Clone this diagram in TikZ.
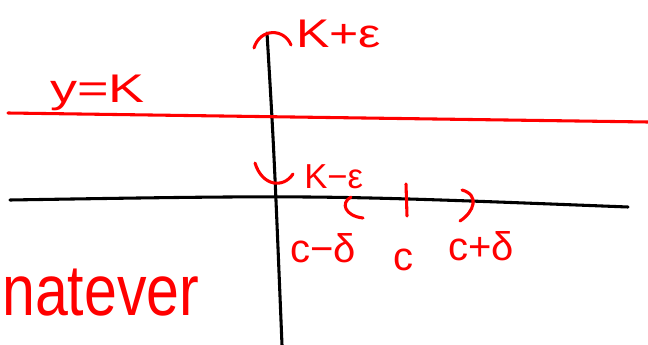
\documentclass[tikz,border=0pt]{standalone}
\usepackage{fontspec}
\setmainfont{Liberation Sans}
\usetikzlibrary{positioning}
\definecolor{sk-red}{HTML}{FF0000}
\definecolor{sk-ink}{HTML}{000000}

\begin{document}
\begin{tikzpicture}[
  x=0.75pt,y=-0.75pt,
  axis/.style={sk-ink,line width=2.3pt,line cap=round},
  pen/.style={sk-red,line width=2.3pt,line cap=round,line join=round},
  lbl/.style={text=sk-red,inner sep=0pt,anchor=base west,font=\fontsize{30}{32}\selectfont},
  small/.style={lbl,font=\fontsize{26}{28}\selectfont}
]
\useasboundingbox (0,0) rectangle (648,345);

% axes
\draw[axis] (10,200) .. controls (320,195) .. (628,207);
\draw[axis] (267,33) .. controls (274,150) .. (282,345);

% level y = K and its band
\draw[pen] (8,113) -- (648,122);
\node[lbl,xscale=1.35,transform shape] (yk) at (50,103) {y=K};
\draw[pen] (254,48) .. controls (260,28) and (284,28) .. (291,45);
\node[lbl,xscale=1.25,transform shape] (kup) at (296,48) {K+ε};
\draw[pen] (255,163) .. controls (262,186) and (283,189) .. (293,174);
\node[small] (kdn) at (304,188) {K−ε};

% interval round c
\draw[pen] (351,197) .. controls (340,203) and (345,216) .. (363,218);
\draw[pen] (406,184) -- (407,216);
\draw[pen] (462,190) .. controls (480,195) and (474,212) .. (460,221);
\node[lbl] (cl) at (290,262) {c−δ};
\node[lbl] (cm) at (393,270) {c};
\node[lbl] (cr) at (448,260) {c+δ};

% word at the lower left
\node[lbl,font=\fontsize{54}{56}\selectfont,xscale=0.82,transform shape] (wt) at (2,315) {natever};
\end{tikzpicture}
\end{document}
